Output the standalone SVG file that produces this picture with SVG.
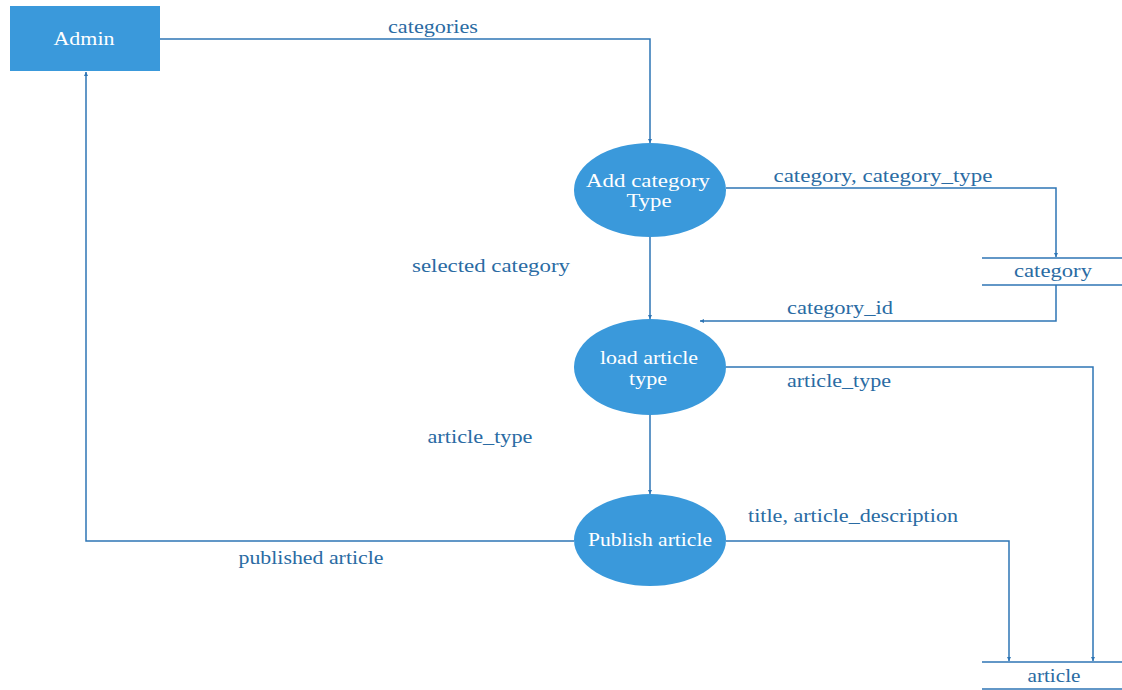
<svg xmlns="http://www.w3.org/2000/svg" width="1122" height="690" viewBox="0 0 1122 690">
  <style>
    .proc { fill: #3A99DB; }
    .ntext { fill: #ffffff; font-family: "Liberation Serif", "Times New Roman", serif; font-size: 19px; text-anchor: middle; }
    .flow { fill: none; stroke: #2E75B5; stroke-width: 1.5; }
    .store { stroke: #2E75B5; stroke-width: 1.5; }
    .label { fill: #2A6BA3; font-family: "Liberation Serif", "Times New Roman", serif; font-size: 19px; text-anchor: middle; }
  </style>
  <defs>
    <marker id="arrow" viewBox="0 0 6 6" refX="6" refY="3" markerWidth="4" markerHeight="4" orient="auto" markerUnits="userSpaceOnUse">
      <path d="M0,0 L6,3 L0,6 z" fill="#2E75B5"/>
    </marker>
  </defs>

  <g id="connectors">
    <polyline class="flow" points="160,39 650,39 650,143" marker-end="url(#arrow)"/>
    <text class="label" x="433" y="33" textLength="90" lengthAdjust="spacingAndGlyphs">categories</text>

    <polyline class="flow" points="726,188 1056,188 1056,257" marker-end="url(#arrow)"/>
    <text class="label" x="883" y="182" textLength="219" lengthAdjust="spacingAndGlyphs">category, category_type</text>

    <polyline class="flow" points="1056,285 1056,321 700,321" marker-end="url(#arrow)"/>
    <text class="label" x="840" y="314" textLength="106" lengthAdjust="spacingAndGlyphs">category_id</text>

    <line class="flow" x1="650" y1="237" x2="650" y2="319" marker-end="url(#arrow)"/>
    <text class="label" x="491" y="272" textLength="158" lengthAdjust="spacingAndGlyphs">selected category</text>

    <polyline class="flow" points="726,367 1093,367 1093,661" marker-end="url(#arrow)"/>
    <text class="label" x="839" y="387" textLength="104" lengthAdjust="spacingAndGlyphs">article_type</text>

    <line class="flow" x1="650" y1="415" x2="650" y2="494" marker-end="url(#arrow)"/>
    <text class="label" x="480" y="443" textLength="105" lengthAdjust="spacingAndGlyphs">article_type</text>

    <polyline class="flow" points="726,541 1009,541 1009,661" marker-end="url(#arrow)"/>
    <text class="label" x="853" y="522" textLength="210" lengthAdjust="spacingAndGlyphs">title, article_description</text>

    <polyline class="flow" points="574,541 86,541 86,72" marker-end="url(#arrow)"/>
    <text class="label" x="311" y="564" textLength="145" lengthAdjust="spacingAndGlyphs">published article</text>
  </g>

  <g id="admin">
    <rect class="proc" x="10" y="6" width="150" height="65"/>
    <text class="ntext" x="84" y="45" textLength="61" lengthAdjust="spacingAndGlyphs">Admin</text>
  </g>

  <g id="add-category-type">
    <ellipse class="proc" cx="650" cy="190" rx="76" ry="47"/>
    <text class="ntext" x="648" y="187" textLength="124" lengthAdjust="spacingAndGlyphs">Add category</text>
    <text class="ntext" x="649" y="207" textLength="45" lengthAdjust="spacingAndGlyphs">Type</text>
  </g>

  <g id="load-article-type">
    <ellipse class="proc" cx="650" cy="367" rx="76" ry="48"/>
    <text class="ntext" x="649" y="364" textLength="98" lengthAdjust="spacingAndGlyphs">load article</text>
    <text class="ntext" x="648" y="385" textLength="38" lengthAdjust="spacingAndGlyphs">type</text>
  </g>

  <g id="publish-article">
    <ellipse class="proc" cx="650" cy="540" rx="76" ry="46"/>
    <text class="ntext" x="650" y="546" textLength="124" lengthAdjust="spacingAndGlyphs">Publish article</text>
  </g>

  <g id="category-store">
    <line class="store" x1="982" y1="258" x2="1122" y2="258"/>
    <line class="store" x1="982" y1="285" x2="1122" y2="285"/>
    <text class="label" x="1053" y="277" textLength="78" lengthAdjust="spacingAndGlyphs">category</text>
  </g>

  <g id="article-store">
    <line class="store" x1="982" y1="662" x2="1122" y2="662"/>
    <line class="store" x1="982" y1="689" x2="1122" y2="689"/>
    <text class="label" x="1054" y="682" textLength="53" lengthAdjust="spacingAndGlyphs">article</text>
  </g>
</svg>
